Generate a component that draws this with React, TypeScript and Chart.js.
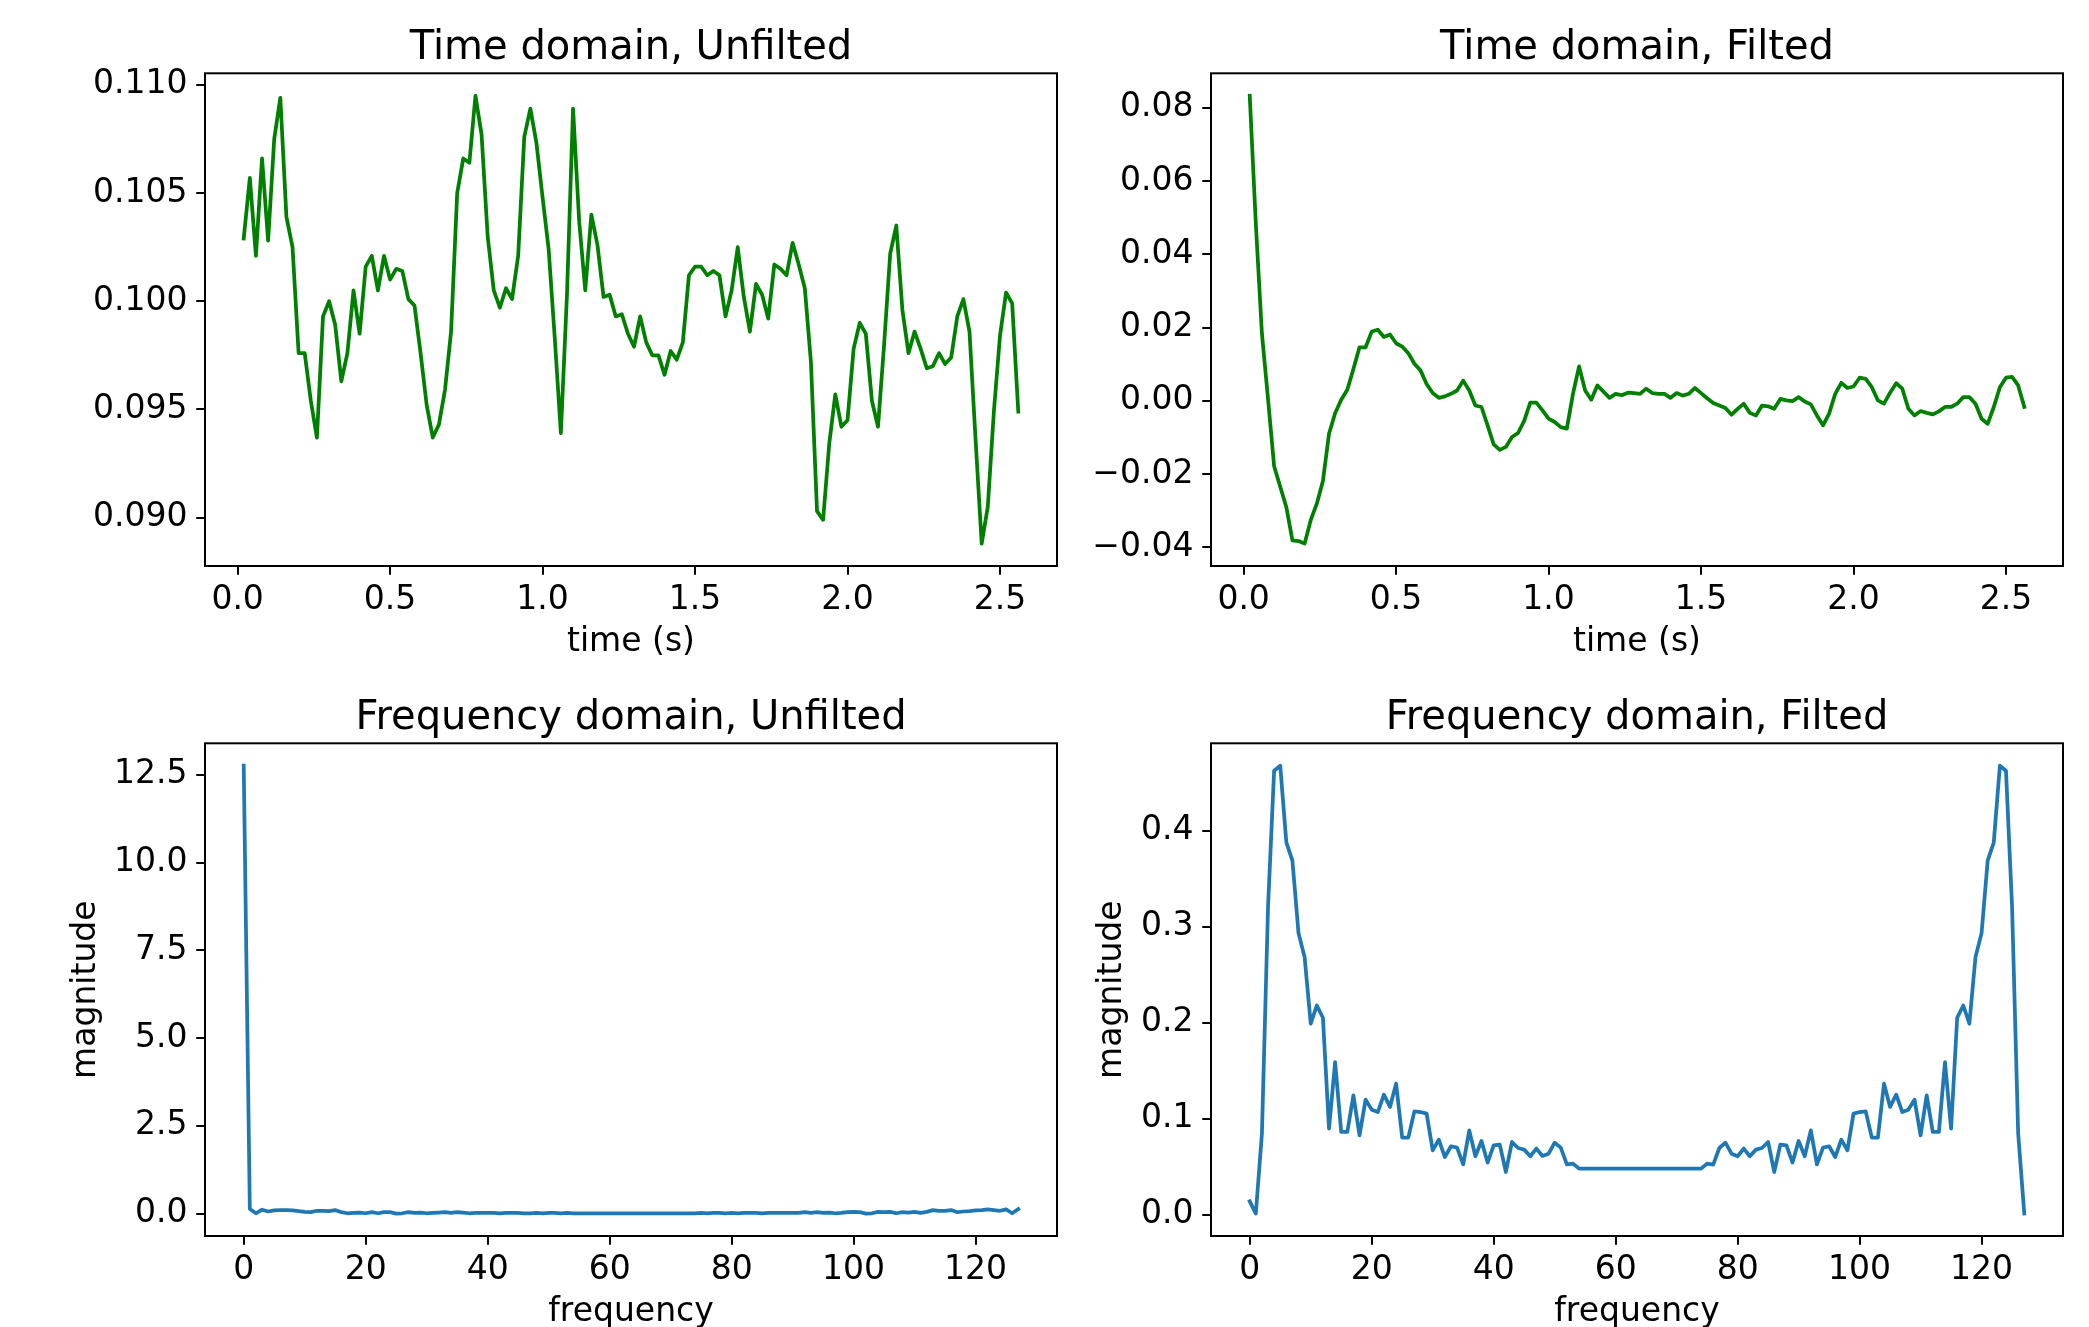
import React, { useEffect, useRef } from 'react';
import { Chart, registerables } from 'chart.js';

Chart.register(...registerables);

const FONT = '"DejaVu Sans", sans-serif';
const GREEN = '#008000';
const BLUE = '#1f77b4';

// ---------- data ----------
const times = [
  0.02, 0.04, 0.06, 0.08, 0.1, 0.12, 0.14, 0.16, 0.18, 0.2,
  0.22, 0.24, 0.26, 0.28, 0.3, 0.32, 0.34, 0.36, 0.38, 0.4,
  0.42, 0.44, 0.46, 0.48, 0.5, 0.52, 0.54, 0.56, 0.58, 0.6,
  0.62, 0.64, 0.66, 0.68, 0.7, 0.72, 0.74, 0.76, 0.78, 0.8,
  0.82, 0.84, 0.86, 0.88, 0.9, 0.92, 0.94, 0.96, 0.98, 1.0,
  1.02, 1.04, 1.06, 1.08, 1.1, 1.12, 1.14, 1.16, 1.18, 1.2,
  1.22, 1.24, 1.26, 1.28, 1.3, 1.32, 1.34, 1.36, 1.38, 1.4,
  1.42, 1.44, 1.46, 1.48, 1.5, 1.52, 1.54, 1.56, 1.58, 1.6,
  1.62, 1.64, 1.66, 1.68, 1.7, 1.72, 1.74, 1.76, 1.78, 1.8,
  1.82, 1.84, 1.86, 1.88, 1.9, 1.92, 1.94, 1.96, 1.98, 2.0,
  2.02, 2.04, 2.06, 2.08, 2.1, 2.12, 2.14, 2.16, 2.18, 2.2,
  2.22, 2.24, 2.26, 2.28, 2.3, 2.32, 2.34, 2.36, 2.38, 2.4,
  2.42, 2.44, 2.46, 2.48, 2.5, 2.52, 2.54, 2.56,
];

const freqs = [
  0, 1, 2, 3, 4, 5, 6, 7, 8, 9,
  10, 11, 12, 13, 14, 15, 16, 17, 18, 19,
  20, 21, 22, 23, 24, 25, 26, 27, 28, 29,
  30, 31, 32, 33, 34, 35, 36, 37, 38, 39,
  40, 41, 42, 43, 44, 45, 46, 47, 48, 49,
  50, 51, 52, 53, 54, 55, 56, 57, 58, 59,
  60, 61, 62, 63, 64, 65, 66, 67, 68, 69,
  70, 71, 72, 73, 74, 75, 76, 77, 78, 79,
  80, 81, 82, 83, 84, 85, 86, 87, 88, 89,
  90, 91, 92, 93, 94, 95, 96, 97, 98, 99,
  100, 101, 102, 103, 104, 105, 106, 107, 108, 109,
  110, 111, 112, 113, 114, 115, 116, 117, 118, 119,
  120, 121, 122, 123, 124, 125, 126, 127,
];

const timeUnfilted = [
  0.1029, 0.1057, 0.1021, 0.1066, 0.1028, 0.1075, 0.1094, 0.1039, 0.1025, 0.0976,
  0.0976, 0.0954, 0.0937, 0.0993, 0.1000, 0.0989, 0.0963, 0.0976, 0.1005, 0.0985,
  0.1016, 0.1021, 0.1005, 0.1021, 0.1010, 0.1015, 0.1014, 0.1001, 0.0998, 0.0976,
  0.0952, 0.0937, 0.0943, 0.0959, 0.0986, 0.1050, 0.1066, 0.1064, 0.1095, 0.1077,
  0.1030, 0.1005, 0.0997, 0.1006, 0.1001, 0.1021, 0.1076, 0.1089, 0.1073, 0.1048,
  0.1024, 0.0983, 0.0939, 0.1003, 0.1089, 0.1037, 0.1005, 0.1040, 0.1026, 0.1002,
  0.1003, 0.0993, 0.0994, 0.0985, 0.0979, 0.0993, 0.0981, 0.0975, 0.0975, 0.0966,
  0.0977, 0.0973, 0.0981, 0.1012, 0.1016, 0.1016, 0.1012, 0.1014, 0.1012, 0.0993,
  0.1005, 0.1025, 0.1002, 0.0986, 0.1008, 0.1003, 0.0992, 0.1017, 0.1015, 0.1012,
  0.1027, 0.1017, 0.1006, 0.0972, 0.0903, 0.0899, 0.0934, 0.0957, 0.0942, 0.0945,
  0.0978, 0.0990, 0.0985, 0.0954, 0.0942, 0.0980, 0.1022, 0.1035, 0.0996, 0.0976,
  0.0986, 0.0978, 0.0969, 0.0970, 0.0976, 0.0971, 0.0974, 0.0993, 0.1001, 0.0986,
  0.0936, 0.0888, 0.0905, 0.0949, 0.0984, 0.1004, 0.0999, 0.0949,
];

const timeFilted = [
  0.0833, 0.0483, 0.0183, 0.0005, -0.0179, -0.0235, -0.0290, -0.0381, -0.0383, -0.0390,
  -0.0326, -0.0281, -0.0219, -0.0090, -0.0034, 0.0003, 0.0030, 0.0087, 0.0146, 0.0146,
  0.0189, 0.0194, 0.0174, 0.0181, 0.0157, 0.0148, 0.0130, 0.0101, 0.0083, 0.0046,
  0.0021, 0.0008, 0.0012, 0.0019, 0.0028, 0.0055, 0.0028, -0.0013, -0.0017, -0.0067,
  -0.0119, -0.0134, -0.0126, -0.0099, -0.0088, -0.0055, -0.0005, -0.0005, -0.0026, -0.0049,
  -0.0058, -0.0072, -0.0076, 0.0019, 0.0094, 0.0028, 0.0003, 0.0042, 0.0025, 0.0008,
  0.0019, 0.0015, 0.0022, 0.0021, 0.0019, 0.0033, 0.0021, 0.0019, 0.0019, 0.0008,
  0.0021, 0.0014, 0.0019, 0.0035, 0.0021, 0.0007, -0.0006, -0.0013, -0.0020, -0.0038,
  -0.0022, -0.0008, -0.0033, -0.0040, -0.0013, -0.0015, -0.0022, 0.0005, 0.0001, -0.0001,
  0.0010, -0.0002, -0.0010, -0.0040, -0.0067, -0.0035, 0.0019, 0.0049, 0.0035, 0.0039,
  0.0063, 0.0060, 0.0037, 0.0001, -0.0008, 0.0022, 0.0048, 0.0033, -0.0022, -0.0040,
  -0.0028, -0.0033, -0.0037, -0.0029, -0.0017, -0.0017, -0.0008, 0.0010, 0.0010, -0.0008,
  -0.0049, -0.0063, -0.0017, 0.0037, 0.0063, 0.0065, 0.0042, -0.0017,
];

const freqUnfilted = [
  12.76, 0.13, 0.01, 0.11, 0.06, 0.09, 0.10, 0.10, 0.09, 0.07,
  0.05, 0.04, 0.08, 0.08, 0.07, 0.10, 0.04, 0.01, 0.02, 0.03,
  0.01, 0.04, 0.01, 0.04, 0.04, 0.00, 0.01, 0.04, 0.02, 0.03,
  0.01, 0.02, 0.03, 0.04, 0.02, 0.04, 0.03, 0.01, 0.02, 0.02,
  0.02, 0.02, 0.01, 0.02, 0.02, 0.02, 0.01, 0.01, 0.02, 0.01,
  0.02, 0.02, 0.01, 0.02, 0.01, 0.01, 0.01, 0.01, 0.005, 0.005,
  0.005, 0.005, 0.005, 0.005, 0.005, 0.005, 0.005, 0.005, 0.005, 0.005,
  0.005, 0.01, 0.01, 0.01, 0.01, 0.02, 0.01, 0.02, 0.02, 0.01,
  0.02, 0.01, 0.02, 0.02, 0.02, 0.01, 0.02, 0.02, 0.02, 0.02,
  0.02, 0.02, 0.04, 0.02, 0.04, 0.02, 0.03, 0.01, 0.02, 0.04,
  0.05, 0.04, 0.00, 0.01, 0.05, 0.04, 0.05, 0.01, 0.04, 0.03,
  0.05, 0.02, 0.05, 0.10, 0.08, 0.08, 0.10, 0.04, 0.06, 0.07,
  0.09, 0.10, 0.12, 0.10, 0.08, 0.12, 0.01, 0.13,
];

const freqFilted = [
  0.0139, 0.0010, 0.0844, 0.3205, 0.4628, 0.4680, 0.3880, 0.3690, 0.2934, 0.2684,
  0.1990, 0.2180, 0.2052, 0.0896, 0.1590, 0.0861, 0.0861, 0.1243, 0.0826, 0.1198,
  0.1094, 0.1069, 0.1250, 0.1122, 0.1365, 0.0802, 0.0802, 0.1076, 0.1069, 0.1052,
  0.0670, 0.0781, 0.0600, 0.0712, 0.0698, 0.0524, 0.0878, 0.0608, 0.0767, 0.0542,
  0.0722, 0.0729, 0.0444, 0.0757, 0.0694, 0.0677, 0.0608, 0.0688, 0.0611, 0.0635,
  0.0750, 0.0698, 0.0524, 0.0531, 0.0479, 0.0479, 0.0479, 0.0479, 0.0479, 0.0479,
  0.0479, 0.0479, 0.0479, 0.0479, 0.0479, 0.0479, 0.0479, 0.0479, 0.0479, 0.0479,
  0.0479, 0.0479, 0.0479, 0.0479, 0.0479, 0.0531, 0.0521, 0.0694, 0.0750, 0.0635,
  0.0608, 0.0688, 0.0608, 0.0677, 0.0694, 0.0757, 0.0444, 0.0729, 0.0722, 0.0542,
  0.0767, 0.0608, 0.0878, 0.0524, 0.0698, 0.0712, 0.0600, 0.0781, 0.0670, 0.1052,
  0.1069, 0.1076, 0.0802, 0.0802, 0.1365, 0.1122, 0.1250, 0.1069, 0.1094, 0.1198,
  0.0826, 0.1243, 0.0861, 0.0861, 0.1590, 0.0896, 0.2052, 0.2180, 0.1990, 0.2684,
  0.2934, 0.3690, 0.3880, 0.4680, 0.4628, 0.3205, 0.0844, 0.0010,
];

// ---------- tick values ----------
const timeTicks = [0, 0.5, 1.0, 1.5, 2.0, 2.5];
const freqTicks = [0, 20, 40, 60, 80, 100, 120];
const yTicksTimeUnfilted = [0.09, 0.095, 0.1, 0.105, 0.11];
const yTicksTimeFilted = [-0.04, -0.02, 0, 0.02, 0.04, 0.06, 0.08];
const yTicksFreqUnfilted = [0, 2.5, 5, 7.5, 10, 12.5];
const yTicksFreqFilted = [0, 0.1, 0.2, 0.3, 0.4];

// ---------- helpers ----------
function padRange(arr: number[]): [number, number] {
  const mn = Math.min(...arr);
  const mx = Math.max(...arr);
  const m = (mx - mn) * 0.05;
  return [mn - m, mx + m];
}

function fmt(v: number, digits: number): string {
  const s = Number(v).toFixed(digits);
  return s.charAt(0) === '-' ? '\u2212' + s.slice(1) : s;
}

const spinePlugin = {
  id: 'spines',
  afterDraw(chart: any) {
    const { ctx, chartArea: a } = chart;
    ctx.save();
    ctx.strokeStyle = '#000';
    ctx.lineWidth = 2;
    ctx.strokeRect(a.left, a.top, a.right - a.left, a.bottom - a.top);
    ctx.restore();
  },
};

type PanelDef = {
  title: string;
  xs: number[];
  ys: number[];
  color: string;
  xTicks: number[];
  xDigits: number;
  yTicks: number[];
  yDigits: number;
  xLabel: string;
  yLabel?: string;
  left: number;
  top: number;
  width: number;
  height: number;
  area: { l: number; t: number; r: number; b: number };
  titleMid: number;
  yTitleX?: number;
};

const TICK_LEN = 8.75;
const XAXIS_H = 90;
const XLABEL_OFFSET = 76; // distance from axes bottom to x-label middle

function makeConfig(p: PanelDef): any {
  const [xmin, xmax] = padRange(p.xs);
  const [ymin, ymax] = padRange(p.ys);
  const titleLH = 40 * 1.2;
  const tPadTop = p.titleMid - titleLH / 2;
  const tPadBottom = p.area.t - tPadTop - titleLH;
  const tickFont = { family: FONT, size: 33, lineHeight: 1.2 };
  const labelFont = { family: FONT, size: 33, lineHeight: 1 };
  const grid = {
    display: true,
    drawOnChartArea: false,
    drawTicks: true,
    tickLength: TICK_LEN,
    tickWidth: 2,
    tickColor: '#000',
    lineWidth: 2,
    color: '#000',
  };
  return {
    type: 'line',
    data: {
      datasets: [
        {
          data: p.xs.map((x, i) => ({ x, y: p.ys[i] })),
          borderColor: p.color,
          backgroundColor: p.color,
          borderWidth: 3.75,
          pointRadius: 0,
          pointHoverRadius: 0,
          tension: 0,
          fill: false,
          borderJoinStyle: 'round',
          borderCapStyle: 'square',
        },
      ],
    },
    options: {
      animation: false,
      responsive: false,
      maintainAspectRatio: false,
      devicePixelRatio: 1,
      events: [],
      layout: {
        padding: {
          left: 0,
          top: 0,
          right: p.width - p.area.r,
          bottom: p.height - p.area.b - XAXIS_H,
        },
      },
      plugins: {
        legend: { display: false },
        tooltip: { enabled: false },
        title: {
          display: true,
          text: p.title,
          fullSize: false,
          color: '#000',
          font: { family: FONT, size: 40, weight: 'normal', lineHeight: 1.2 },
          padding: { top: tPadTop, bottom: tPadBottom },
        },
      },
      scales: {
        x: {
          type: 'linear',
          min: xmin,
          max: xmax,
          afterBuildTicks: (s: any) => {
            s.ticks = p.xTicks.map((v) => ({ value: v }));
          },
          afterFit: (s: any) => {
            s.height = XAXIS_H;
          },
          grid,
          border: { display: false },
          ticks: {
            color: '#000',
            font: tickFont,
            padding: 5.5,
            maxRotation: 0,
            autoSkip: false,
            callback: (v: number) => fmt(v, p.xDigits),
          },
          title: {
            display: true,
            text: p.xLabel,
            color: '#000',
            font: labelFont,
            padding: { top: 0, bottom: XAXIS_H - XLABEL_OFFSET - 16.5 },
          },
        },
        y: {
          type: 'linear',
          min: ymin,
          max: ymax,
          afterBuildTicks: (s: any) => {
            s.ticks = p.yTicks.map((v) => ({ value: v }));
          },
          afterFit: (s: any) => {
            s.width = p.area.l;
          },
          grid,
          border: { display: false },
          ticks: {
            color: '#000',
            font: tickFont,
            padding: 8.75,
            autoSkip: false,
            callback: (v: number) => fmt(v, p.yDigits),
          },
          title: {
            display: !!p.yLabel,
            text: p.yLabel || '',
            color: '#000',
            font: labelFont,
            padding: { top: (p.yTitleX || 0) - 16.5, bottom: 0 },
          },
        },
      },
    },
    plugins: [spinePlugin],
  };
}

const panels: PanelDef[] = [
  {
    title: 'Time domain, Unfilted',
    xs: times,
    ys: timeUnfilted,
    color: GREEN,
    xTicks: timeTicks,
    xDigits: 1,
    yTicks: yTicksTimeUnfilted,
    yDigits: 3,
    xLabel: 'time (s)',
    left: 0,
    top: 0,
    width: 1080,
    height: 665,
    area: { l: 205, t: 73.3, r: 1057, b: 566 },
    titleMid: 49,
  },
  {
    title: 'Time domain, Filted',
    xs: times,
    ys: timeFilted,
    color: GREEN,
    xTicks: timeTicks,
    xDigits: 1,
    yTicks: yTicksTimeFilted,
    yDigits: 2,
    xLabel: 'time (s)',
    left: 1080,
    top: 0,
    width: 1009,
    height: 665,
    area: { l: 131, t: 73.3, r: 983, b: 566 },
    titleMid: 49,
  },
  {
    title: 'Frequency domain, Unfilted',
    xs: freqs,
    ys: freqUnfilted,
    color: BLUE,
    xTicks: freqTicks,
    xDigits: 0,
    yTicks: yTicksFreqUnfilted,
    yDigits: 1,
    xLabel: 'frequency',
    yLabel: 'magnitude',
    left: 0,
    top: 665,
    width: 1080,
    height: 662,
    area: { l: 205, t: 78.3, r: 1057, b: 571 },
    titleMid: 54,
    yTitleX: 86,
  },
  {
    title: 'Frequency domain, Filted',
    xs: freqs,
    ys: freqFilted,
    color: BLUE,
    xTicks: freqTicks,
    xDigits: 0,
    yTicks: yTicksFreqFilted,
    yDigits: 1,
    xLabel: 'frequency',
    yLabel: 'magnitude',
    left: 1080,
    top: 665,
    width: 1009,
    height: 662,
    area: { l: 131, t: 78.3, r: 983, b: 571 },
    titleMid: 54,
    yTitleX: 32,
  },
];

function Panel({ p }: { p: PanelDef }) {
  const ref = useRef<HTMLCanvasElement | null>(null);
  useEffect(() => {
    if (!ref.current) return;
    const chart = new Chart(ref.current, makeConfig(p));
    return () => chart.destroy();
  }, []);
  return (
    <canvas
      ref={ref}
      width={p.width}
      height={p.height}
      style={{
        position: 'absolute',
        left: p.left,
        top: p.top,
        width: p.width,
        height: p.height,
      }}
    />
  );
}

export default function App() {
  return (
    <div
      style={{
        position: 'absolute',
        left: 0,
        top: 0,
        width: 2089,
        height: 1327,
        background: '#fff',
        overflow: 'hidden',
      }}
    >
      {panels.map((p, i) => (
        <Panel key={i} p={p} />
      ))}
    </div>
  );
}
